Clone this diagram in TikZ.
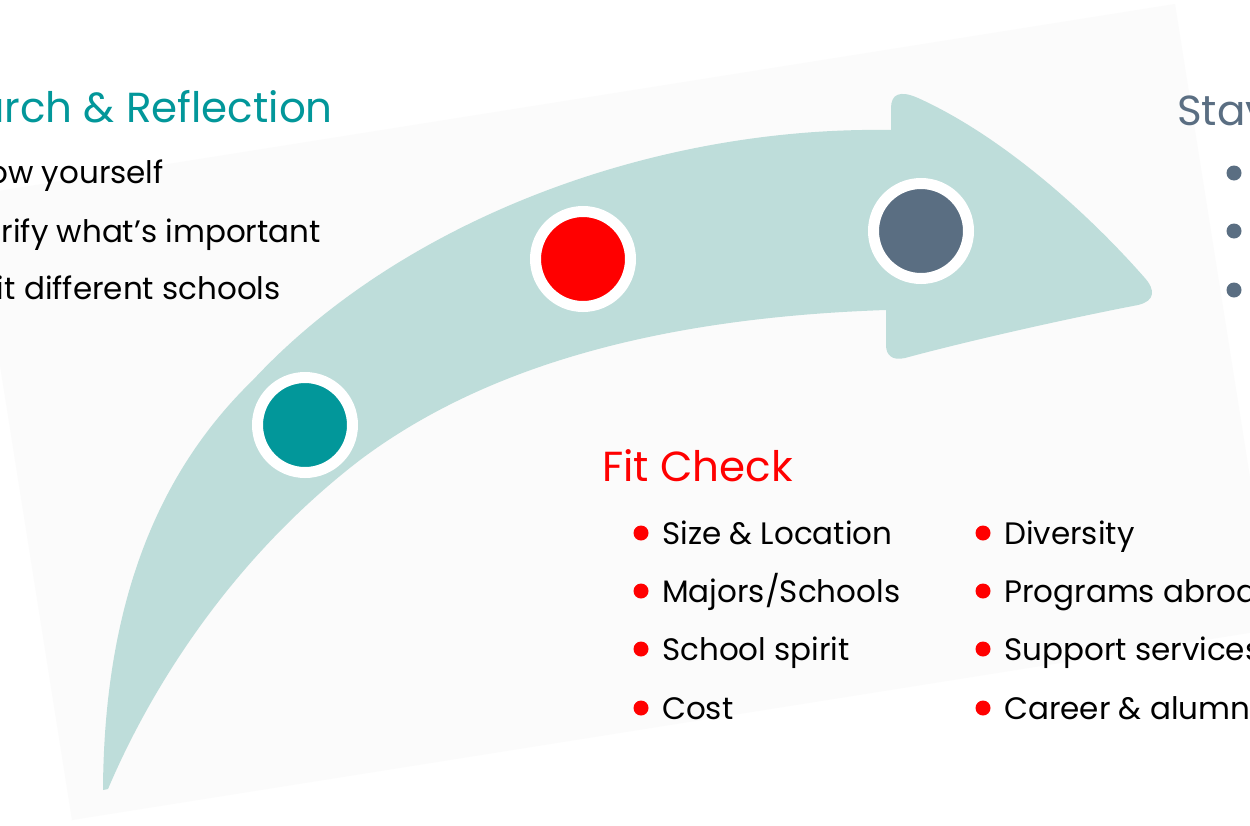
\documentclass[tikz,border=0pt]{standalone}
\usepackage{fontspec}
\setmainfont{Poppins}
\definecolor{bgc}{RGB}{251,251,251}
\definecolor{arrowc}{RGB}{190,221,218}
\definecolor{tealc}{RGB}{2,151,154}
\definecolor{slatec}{RGB}{90,110,130}
\definecolor{redc}{RGB}{255,0,0}
\begin{document}
\begin{tikzpicture}[x=1pt,y=-1pt,
  title/.style={font=\fontsize{42}{48}\selectfont, inner sep=0},
  item/.style={font=\fontsize{31}{37}\selectfont, inner sep=0, text=black},
  dot/.style={circle, inner sep=0, minimum size=15},
  stage/.style={circle, draw=white, line width=11pt, minimum size=95, inner sep=0}]
\useasboundingbox (0,0) rectangle (1250,825);
\clip (0,0) rectangle (1250,825);
\fill[white] (0,0) rectangle (1250,825);
% tilted background sheet
\fill[bgc] (-27,195) -- (1175,4) -- (1274,629) -- (72,820) -- cycle;
% curved arrow
\fill[arrowc] (886,310) -- (886,345)
  .. controls (886,355) and (892,361) .. (905,358)
  .. controls (960,343) and (1060,320) .. (1138,305)
  .. controls (1155,301) and (1156,290) .. (1144,277)
  .. controls (1085,210) and (1000,135) .. (918,98)
  .. controls (900,90) and (891,94) .. (891,108)
  -- (891,130)
  .. controls (650,126) and (400,222) .. (253,380)
  .. controls (160,470) and (104,600) .. (103,790)
  -- (108,789)
  .. controls (150,690) and (230,560) .. (360,460)
  .. controls (480,370) and (650,318) .. (886,310)
  -- cycle;
% stage circles
\node[stage, fill=tealc] (s1) at (305,425) {};
\node[stage, fill=redc] (s2) at (583,259) {};
\node[stage, fill=slatec] (s3) at (921,231) {};
% left block
\node[title, text=tealc, anchor=base east] (t1) at (333,122) {Search \& Reflection};
\node[item, anchor=base east] (l1) at (164,183) {Know yourself};
\node[item, anchor=base east] (l2) at (321,242) {Clarify what’s important};
\node[item, anchor=base east] (l3) at (281,299) {Visit different schools};
% right block
\node[title, text=slatec, anchor=base west] (t3) at (1177,125) {Stay};
\node[dot, fill=slatec] (r1) at (1234,173) {};
\node[dot, fill=slatec] (r2) at (1234,231) {};
\node[dot, fill=slatec] (r3) at (1234,290) {};
% fit check block
\node[title, text=redc, anchor=base west] (t2) at (602,481) {Fit Check};
\node[dot, fill=redc] (d1) at (641,533) {};
\node[dot, fill=redc] (d2) at (641,591) {};
\node[dot, fill=redc] (d3) at (641,649) {};
\node[dot, fill=redc] (d4) at (641,708) {};
\node[item, anchor=base west] (f1) at (662,544) {Size \& Location};
\node[item, anchor=base west] (f2) at (662,602) {Majors/Schools};
\node[item, anchor=base west] (f3) at (662,660) {School spirit};
\node[item, anchor=base west] (f4) at (662,719) {Cost};
\node[dot, fill=redc] (e1) at (983,533) {};
\node[dot, fill=redc] (e2) at (983,591) {};
\node[dot, fill=redc] (e3) at (983,649) {};
\node[dot, fill=redc] (e4) at (983,708) {};
\node[item, anchor=base west] (g1) at (1004,544) {Diversity};
\node[item, anchor=base west] (g2) at (1004,602) {Programs abroad};
\node[item, anchor=base west] (g3) at (1004,660) {Support services};
\node[item, anchor=base west] (g4) at (1004,719) {Career \& alumni};
\end{tikzpicture}
\end{document}
